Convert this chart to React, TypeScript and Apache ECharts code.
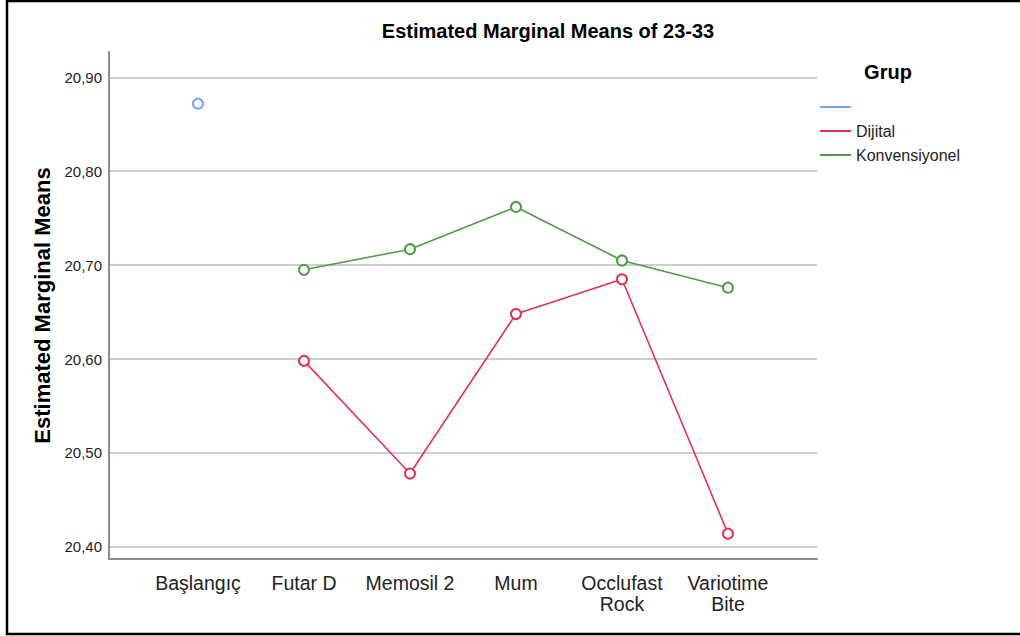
import React, { useEffect, useRef } from "react";
import * as echarts from "echarts";

const categories = ["Başlangıç", "Futar D", "Memosil 2", "Mum", "Occlufast\nRock", "Variotime\nBite"];
const blankGroup = [20.872, null, null, null, null, null];
const dijital = [null, 20.598, 20.478, 20.648, 20.685, 20.414];
const konvensiyonel = [null, 20.695, 20.717, 20.762, 20.705, 20.676];
const yMin = 20.387;
const yMax = 20.927;
const seriesNames = [" ", "Dijital", "Konvensiyonel"];
const colors = ["#74a6ec", "#e3325a", "#4f9c45"];

const SANS = "'Liberation Sans', Arial, sans-serif";

export default function App() {
  const ref = useRef<HTMLDivElement>(null);
  useEffect(() => {
    if (!ref.current) return;
    const chart = echarts.init(ref.current, null, { renderer: "svg" });
    const mkSeries = (name: string, data: (number | null)[], color: string) => ({
      name,
      type: "line",
      xAxisIndex: 1,
      yAxisIndex: 1,
      data,
      symbol: "emptyCircle",
      symbolSize: 10,
      showAllSymbol: true,
      connectNulls: false,
      itemStyle: { color, borderWidth: 1.5 },
      lineStyle: { color, width: 1.6 },
      emphasis: { disabled: true },
    });
    chart.setOption({
      animation: false,
      backgroundColor: "#ffffff",
      title: [
        {
          text: "Estimated Marginal Means of 23-33",
          left: 548,
          top: 21,
          textAlign: "center",
          padding: 0,
          textStyle: { fontFamily: SANS, fontWeight: "bold", fontSize: 20, color: "#000" },
        },
        {
          text: "Grup",
          left: 888,
          top: 62,
          textAlign: "center",
          padding: 0,
          textStyle: { fontFamily: SANS, fontWeight: "bold", fontSize: 20, color: "#000" },
        },
      ],
      legend: {
        orient: "vertical",
        left: 820,
        top: 95,
        padding: 0,
        itemGap: 0,
        itemWidth: 31,
        itemHeight: 2,
        icon: "rect",
        selectedMode: false,
        data: seriesNames.map((n, i) => ({ name: n, itemStyle: { color: colors[i], borderWidth: 0 } })),
        textStyle: { fontFamily: SANS, fontSize: 16, color: "#222", lineHeight: 24 },
      },
      grid: [
        { left: 109, right: 203, top: 52, bottom: 77 },
        { left: 145, right: 239, top: 52, bottom: 77 },
      ],
      xAxis: [
        {
          type: "value",
          gridIndex: 0,
          min: 0,
          max: 1,
          axisLine: { show: true, onZero: false, lineStyle: { color: "#8c8c8c", width: 2 } },
          axisTick: { show: false },
          axisLabel: { show: false },
          splitLine: { show: false },
        },
        {
          type: "category",
          gridIndex: 1,
          data: categories,
          boundaryGap: true,
          axisLine: { show: false },
          axisTick: { show: false },
          splitLine: { show: false },
          axisLabel: {
            interval: 0,
            margin: 13,
            fontFamily: SANS,
            fontSize: 19.5,
            lineHeight: 21,
            color: "#222",
          },
        },
      ],
      yAxis: [
        {
          type: "value",
          gridIndex: 0,
          min: yMin,
          max: yMax,
          name: "Estimated Marginal Means",
          nameLocation: "middle",
          nameRotate: 90,
          nameGap: 52,
          nameTextStyle: { fontFamily: SANS, fontWeight: "bold", fontSize: 22, color: "#000" },
          axisLine: { show: true, onZero: false, lineStyle: { color: "#8c8c8c", width: 2 } },
          axisTick: { show: false },
          axisLabel: {
            margin: 7,
            showMinLabel: false,
            showMaxLabel: false,
            fontFamily: SANS,
            fontSize: 15,
            color: "#222",
            formatter: (v: number) => v.toFixed(2).replace(".", ","),
          },
          splitLine: {
            show: true,
            showMinLine: false,
            showMaxLine: false,
            lineStyle: { color: "#cdcdcd", width: 2 },
          },
        },
        {
          type: "value",
          gridIndex: 1,
          min: yMin,
          max: yMax,
          show: false,
          splitLine: { show: false },
        },
      ],
      graphic: [
        {
          type: "rect",
          shape: { x: 7, y: 1, width: 1030, height: 633 },
          style: { fill: "none", stroke: "#000", lineWidth: 2.5 },
          silent: true,
          z: 100,
        },
      ],
      series: [
        mkSeries(seriesNames[0], blankGroup, colors[0]),
        mkSeries(seriesNames[1], dijital, colors[1]),
        mkSeries(seriesNames[2], konvensiyonel, colors[2]),
      ],
    });
    return () => chart.dispose();
  }, []);
  return (
    <div
      ref={ref}
      style={{ position: "absolute", left: 0, top: 0, width: 1020, height: 636 }}
    />
  );
}
